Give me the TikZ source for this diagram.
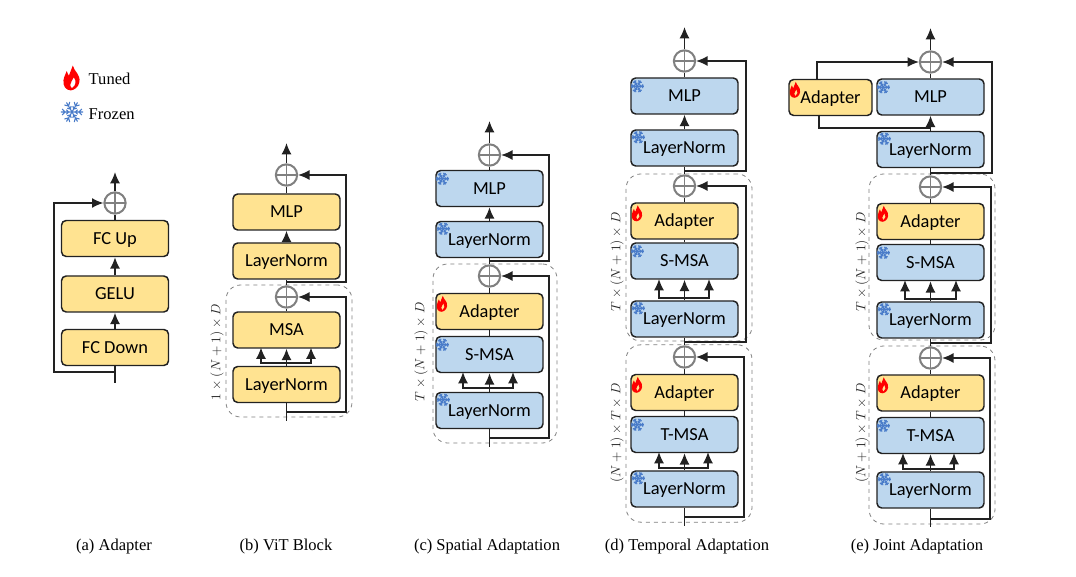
\documentclass[tikz,border=0pt]{standalone}
\usepackage{fontspec}
\setmainfont{Liberation Serif}
\setsansfont{Carlito}
\usetikzlibrary{arrows.meta}
\definecolor{tuned}{HTML}{FFE391}
\definecolor{frozen}{HTML}{BDD7EE}
\definecolor{edgeblack}{HTML}{222222}
\definecolor{snow}{HTML}{4A7CC9}
\tikzset{
	pics/snowflake/.style={code={
		\foreach \a in {0,60,...,300} {
			\draw[snow, line width=0.8pt, rotate=\a] (0,0) -- (6.5,0) (4,0) -- (5.8,1.8) (4,0) -- (5.8,-1.8) (2,0) -- (3.3,1.3) (2,0) -- (3.3,-1.3);
		}
	}},
	pics/flame/.style={code={
		\fill[red, even odd rule] (0.5,-8) .. controls (1.5,-4) and (5.5,-2.5) .. (4.8,2.5) .. controls (4.4,6) and (1,8) .. (-0.8,8) .. controls (-4,8) and (-6,5) .. (-5.5,1.5) .. controls (-5.2,-1) and (-4,-2.5) .. (-3.4,-4.5) .. controls (-2.8,-3) and (-2.5,-2) .. (-2,-1.5) .. controls (-1,-3.5) and (-0.5,-6) .. (0.5,-8) -- cycle
		(1.2,-0.5) .. controls (3,2) and (2.5,5) .. (0,6.5) .. controls (-2,5.5) and (-1,3) .. (1.2,-0.5) -- cycle;
	}}
}
\begin{document}
\begin{tikzpicture}[x=0.75pt, y=-0.75pt,
	blk/.style={rectangle, draw=edgeblack, line width=1.1pt, rounded corners=3.5pt, minimum width=80.25pt, minimum height=27pt, inner sep=0pt, text height=10pt, text depth=1.5pt, font=\sffamily\fontsize{13.8}{15}\selectfont},
	ylw/.style={blk, fill=tuned},
	blu/.style={blk, fill=frozen},
	plus/.style={circle, draw=gray, line width=1.5pt, minimum size=16pt, inner sep=0pt,
		path picture={\draw[gray, line width=1.2pt] (path picture bounding box.north) -- (path picture bounding box.south) (path picture bounding box.west) -- (path picture bounding box.east);}},
	grp/.style={rectangle, draw=gray, dashed, line width=0.6pt, rounded corners=11pt, inner sep=0pt},
	dims/.style={rotate=90, text=black!85, font=\fontsize{10}{12}\selectfont},
	capt/.style={font=\fontsize{12.4}{14}\selectfont},
	wire/.style={draw=edgeblack, line width=1.1pt},
	flow/.style={wire, -{Latex[length=8.5pt,width=7.5pt]}}]
\useasboundingbox (0,0) rectangle (1076,577);

% Legend
\pic at (72,78) [scale=1.55] {flame};
\pic at (72,112) [scale=1.7] {snowflake};
\node[capt, anchor=west] (legT) at (84,79) {Tuned};
\node[capt, anchor=west] (legF) at (84,114) {Frozen};

% Adapter
\node[ylw] (aDown) at (115,347.5) {FC Down};
\node[ylw] (aGelu) at (115,294) {GELU};
\node[ylw] (aUp) at (115,238.5) {FC Up};
\node[plus] (aAdd) at (115,203) {};
\coordinate (aOut) at (115,172);
\coordinate (aIn) at (115,383);
\coordinate (aTap) at (115,372);
\coordinate (aLeft) at (54,372);
\node[capt] (capA) at (114,547) {(a) Adapter};

% ViT block
\node[grp, minimum width=94.5pt, minimum height=99pt] (bGrp) at (289,351) {};
\node[ylw] (bLN1) at (286.5,384.5) {LayerNorm};
\node[ylw] (bMSA) at (286.5,330) {MSA};
\node[plus] (bAdd1) at (286.5,297) {};
\node[ylw] (bLN2) at (286.5,261) {LayerNorm};
\node[ylw] (bMLP) at (286.5,212) {MLP};
\node[plus] (bAdd2) at (286.5,175) {};
\coordinate (bOut) at (286.5,143);
\coordinate (bIn) at (286.5,421);
\coordinate (bTap1) at (286.5,412);
\coordinate (bR1) at (346,412);
\coordinate (bTap2) at (286.5,282);
\coordinate (bR2) at (346,282);
\coordinate (bFork) at (286.5,363);
\coordinate (bTipL) at (261,347.5);
\coordinate (bTipR) at (311,347.5);
\node[dims] (bDim) at (217,352) {$1\times(N+1)\times D$};
\node[capt] (capB) at (286,547) {(b) ViT Block};

% Spatial adaptation
\node[grp, minimum width=93pt, minimum height=134.25pt] (cGrp) at (495,353.5) {};
\node[blu] (cLN1) at (489.5,410.5) {LayerNorm};
\node[blu] (cSM) at (489.5,354.5) {S-MSA};
\node[ylw] (cAd) at (489.5,311.5) {Adapter};
\node[plus] (cAdd1) at (489.5,276) {};
\node[blu] (cLN2) at (489.5,239.5) {LayerNorm};
\node[blu] (cMLP) at (489.5,188.5) {MLP};
\node[plus] (cAdd2) at (489.5,155) {};
\coordinate (cOut) at (489.5,121);
\coordinate (cIn) at (489.5,447);
\coordinate (cTap1) at (489.5,438);
\coordinate (cR1) at (549,438);
\coordinate (cTap2) at (489.5,261);
\coordinate (cR2) at (549,261);
\coordinate (cFork) at (489.5,388);
\coordinate (cTipL) at (463,372);
\coordinate (cTipR) at (513,372);
\node[dims] (cDim) at (421,352) {$T\times(N+1)\times D$};
\node[capt] (capC) at (487,547) {(c) Spatial Adaptation};

% Temporal adaptation
\node[grp, minimum width=94.5pt, minimum height=125.25pt] (dGrp1) at (689,257.5) {};
\node[grp, minimum width=94.5pt, minimum height=133pt] (dGrp2) at (689,433.5) {};
\node[blu] (dLN1) at (684.5,489) {LayerNorm};
\node[blu] (dTM) at (684.5,434.5) {T-MSA};
\node[ylw] (dAd1) at (684.5,392.5) {Adapter};
\node[plus] (dAdd1) at (684.5,357) {};
\node[blu] (dLN2) at (684.5,319) {LayerNorm};
\node[blu] (dSM) at (684.5,261) {S-MSA};
\node[ylw] (dAd2) at (684.5,221) {Adapter};
\node[plus] (dAdd2) at (684.5,186) {};
\node[blu] (dLN3) at (684.5,148) {LayerNorm};
\node[blu] (dMLP) at (684.5,96) {MLP};
\node[plus] (dAdd3) at (684.5,61) {};
\coordinate (dOut) at (684.5,27);
\coordinate (dIn) at (684.5,526);
\coordinate (dTap1) at (684.5,517);
\coordinate (dR1) at (744,517);
\coordinate (dTap2) at (684.5,342);
\coordinate (dR2) at (746,342);
\coordinate (dTap3) at (684.5,171);
\coordinate (dR3) at (746,171);
\coordinate (dFork1) at (684.5,468);
\coordinate (dTipL1) at (659,452);
\coordinate (dTipR1) at (708,452);
\coordinate (dFork2) at (684.5,298);
\coordinate (dTipL2) at (659,279);
\coordinate (dTipR2) at (709,279);
\node[dims] (dDim1) at (617,262) {$T\times(N+1)\times D$};
\node[dims] (dDim2) at (617,433) {$(N+1)\times T\times D$};
\node[capt] (capD) at (687,547) {(d) Temporal Adaptation};

% Joint adaptation
\node[grp, minimum width=94.5pt, minimum height=124.5pt] (eGrp1) at (932,257) {};
\node[grp, minimum width=94.5pt, minimum height=133.5pt] (eGrp2) at (932,435) {};
\node[blu] (eLN1) at (930.5,490) {LayerNorm};
\node[blu] (eTM) at (930.5,435.5) {T-MSA};
\node[ylw] (eAd1) at (930.5,393) {Adapter};
\node[plus] (eAdd1) at (930.5,358) {};
\node[blu] (eLN2) at (930.5,320) {LayerNorm};
\node[blu] (eSM) at (930.5,262.5) {S-MSA};
\node[ylw] (eAd2) at (930.5,221.5) {Adapter};
\node[plus] (eAdd2) at (930.5,187) {};
\node[blu] (eLN3) at (930.5,149.5) {LayerNorm};
\node[blu] (eMLP) at (930.5,97) {MLP};
\node[plus] (eAdd3) at (930.5,62) {};
\node[ylw, minimum width=62.25pt] (eAd3) at (830.5,97.5) {Adapter};
\coordinate (eOut) at (930.5,28);
\coordinate (eIn) at (930.5,527);
\coordinate (eTap1) at (930.5,519);
\coordinate (eR1) at (990,519);
\coordinate (eTap2) at (930.5,343);
\coordinate (eR2) at (991,343);
\coordinate (eTap3) at (930.5,173);
\coordinate (eR3) at (992,173);
\coordinate (eFork1) at (930.5,469);
\coordinate (eTipL1) at (903,453);
\coordinate (eTipR1) at (954,453);
\coordinate (eFork2) at (930.5,299);
\coordinate (eTipL2) at (905,280);
\coordinate (eTipR2) at (956,280);
\coordinate (eSideT) at (817,80);
\coordinate (eSideB) at (819,115);
\coordinate (eSideL) at (819,128);
\coordinate (eSideR) at (930.5,128);
\node[dims] (eDim1) at (862,262) {$T\times(N+1)\times D$};
\node[dims] (eDim2) at (862,433) {$(N+1)\times T\times D$};
\node[capt] (capE) at (917,547) {(e) Joint Adaptation};

% Icons
\pic at ([shift={(7,11)}]cAd.north west) {flame};
\pic at ([shift={(7,11)}]dAd1.north west) {flame};
\pic at ([shift={(7,11)}]dAd2.north west) {flame};
\pic at ([shift={(7,11)}]eAd1.north west) {flame};
\pic at ([shift={(7,11)}]eAd2.north west) {flame};
\pic at ([shift={(7,11)}]eAd3.north west) {flame};
\pic at ([shift={(8,8)}]cLN1.north west) {snowflake};
\pic at ([shift={(7,9)}]cSM.north west) {snowflake};
\pic at ([shift={(8,8)}]cLN2.north west) {snowflake};
\pic at ([shift={(7,9)}]cMLP.north west) {snowflake};
\pic at ([shift={(8,8)}]dLN1.north west) {snowflake};
\pic at ([shift={(7,9)}]dTM.north west) {snowflake};
\pic at ([shift={(8,8)}]dLN2.north west) {snowflake};
\pic at ([shift={(7,9)}]dSM.north west) {snowflake};
\pic at ([shift={(8,8)}]dLN3.north west) {snowflake};
\pic at ([shift={(7,9)}]dMLP.north west) {snowflake};
\pic at ([shift={(8,8)}]eLN1.north west) {snowflake};
\pic at ([shift={(7,9)}]eTM.north west) {snowflake};
\pic at ([shift={(8,8)}]eLN2.north west) {snowflake};
\pic at ([shift={(7,9)}]eSM.north west) {snowflake};
\pic at ([shift={(8,8)}]eLN3.north west) {snowflake};
\pic at ([shift={(7,9)}]eMLP.north west) {snowflake};

% Transitions
\draw[wire] (aIn) -- (aDown);
\draw[flow] (aDown) -- (aGelu);
\draw[flow] (aGelu) -- (aUp);
\draw[wire] (aUp) -- (aAdd);
\draw[flow] (aAdd) -- (aOut);
\draw[flow] (aTap) -- (aLeft) |- (aAdd);

\draw[wire] (bIn) -- (bLN1);
\draw[flow] (bLN1) -- (bMSA);
\draw[flow] (bFork) -| (bTipL);
\draw[flow] (bFork) -| (bTipR);
\draw[wire] (bMSA) -- (bAdd1);
\draw[wire] (bAdd1) -- (bLN2);
\draw[flow] (bLN2) -- (bMLP);
\draw[wire] (bMLP) -- (bAdd2);
\draw[flow] (bAdd2) -- (bOut);
\draw[flow] (bTap1) -- (bR1) |- (bAdd1);
\draw[flow] (bTap2) -- (bR2) |- (bAdd2);

\draw[wire] (cIn) -- (cLN1);
\draw[flow] (cLN1) -- (cSM);
\draw[flow] (cFork) -| (cTipL);
\draw[flow] (cFork) -| (cTipR);
\draw[wire] (cSM) -- (cAd);
\draw[wire] (cAd) -- (cAdd1);
\draw[wire] (cAdd1) -- (cLN2);
\draw[flow] (cLN2) -- (cMLP);
\draw[wire] (cMLP) -- (cAdd2);
\draw[flow] (cAdd2) -- (cOut);
\draw[flow] (cTap1) -- (cR1) |- (cAdd1);
\draw[flow] (cTap2) -- (cR2) |- (cAdd2);

\draw[wire] (dIn) -- (dLN1);
\draw[flow] (dLN1) -- (dTM);
\draw[flow] (dFork1) -| (dTipL1);
\draw[flow] (dFork1) -| (dTipR1);
\draw[wire] (dTM) -- (dAd1);
\draw[wire] (dAd1) -- (dAdd1);
\draw[wire] (dAdd1) -- (dLN2);
\draw[flow] (dLN2) -- (dSM);
\draw[flow] (dFork2) -| (dTipL2);
\draw[flow] (dFork2) -| (dTipR2);
\draw[wire] (dSM) -- (dAd2);
\draw[wire] (dAd2) -- (dAdd2);
\draw[wire] (dAdd2) -- (dLN3);
\draw[flow] (dLN3) -- (dMLP);
\draw[wire] (dMLP) -- (dAdd3);
\draw[flow] (dAdd3) -- (dOut);
\draw[flow] (dTap1) -- (dR1) |- (dAdd1);
\draw[flow] (dTap2) -- (dR2) |- (dAdd2);
\draw[flow] (dTap3) -- (dR3) |- (dAdd3);

\draw[wire] (eIn) -- (eLN1);
\draw[flow] (eLN1) -- (eTM);
\draw[flow] (eFork1) -| (eTipL1);
\draw[flow] (eFork1) -| (eTipR1);
\draw[wire] (eTM) -- (eAd1);
\draw[wire] (eAd1) -- (eAdd1);
\draw[wire] (eAdd1) -- (eLN2);
\draw[flow] (eLN2) -- (eSM);
\draw[flow] (eFork2) -| (eTipL2);
\draw[flow] (eFork2) -| (eTipR2);
\draw[wire] (eSM) -- (eAd2);
\draw[wire] (eAd2) -- (eAdd2);
\draw[wire] (eAdd2) -- (eLN3);
\draw[flow] (eLN3) -- (eMLP);
\draw[wire] (eMLP) -- (eAdd3);
\draw[flow] (eAdd3) -- (eOut);
\draw[flow] (eTap1) -- (eR1) |- (eAdd1);
\draw[flow] (eTap2) -- (eR2) |- (eAdd2);
\draw[flow] (eTap3) -- (eR3) |- (eAdd3);
\draw[flow] (eSideT) |- (eAdd3);
\draw[wire] (eSideB) -- (eSideL) -- (eSideR);
\end{tikzpicture}
\end{document}
